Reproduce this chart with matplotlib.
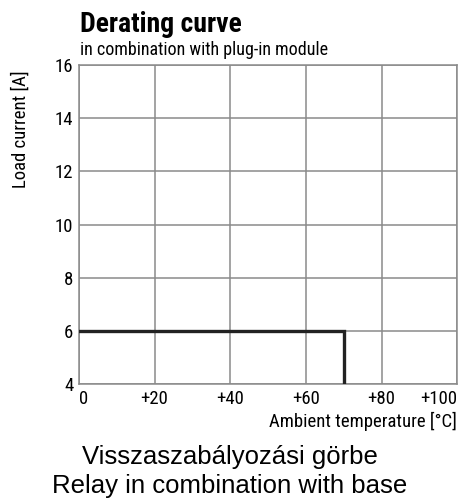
import matplotlib.pyplot as plt
from matplotlib import font_manager

# derating curve: load current vs ambient temperature
temp = [0, 70, 70]
current = [6, 6, 4]

x_ticks = [0, 20, 40, 60, 80, 100]
x_labels = ['0', '+20', '+40', '+60', '+80', '+100']
y_ticks = [4, 6, 8, 10, 12, 14, 16]

names = {f.name for f in font_manager.fontManager.ttflist}
narrow = [n for n in ['Liberation Sans Narrow', 'DejaVu Sans Condensed', 'Roboto Condensed'] if n in names]
narrow = narrow + ['DejaVu Sans']
plt.rcParams['font.family'] = narrow

fig = plt.figure(figsize=(4.59, 4.99), dpi=100)
ax = fig.add_axes([0.172, 0.2305, 0.824, 0.639])

ax.plot(temp, current, color='#222222', lw=2.4, solid_joinstyle='miter', zorder=3)

ax.set_xlim(0, 100)
ax.set_ylim(4, 16)
ax.set_xticks(x_ticks)
ax.set_xticklabels(x_labels, fontsize=13.5)
ax.set_yticks(y_ticks)
ax.set_yticklabels([str(v) for v in y_ticks], fontsize=13.5)
ax.tick_params(length=0, pad=4)
ax.grid(True, color='#8a8a8a', lw=1.1)
for s in ax.spines.values():
    s.set_color('#8a8a8a')
    s.set_linewidth(1.1)
lbls = ax.get_xticklabels()
lbls[0].set_ha('left')
lbls[-1].set_ha('right')

ax.set_xlabel('Ambient temperature [°C]', fontsize=13.5, loc='right', labelpad=3)
ax.set_ylabel('Load current [A]', fontsize=13.5)
ax.yaxis.set_label_coords(-0.13, 0.80)

fig.text(0.174, 0.936, 'Derating curve', fontsize=20, fontweight='bold', va='baseline')
fig.text(0.174, 0.889, 'in combination with plug-in module', fontsize=13, va='baseline')

cap = ['Liberation Sans', 'DejaVu Sans']
fig.text(0.5, 0.070, 'Visszaszabályozási görbe', fontsize=18.5, ha='center', va='baseline', family=cap)
fig.text(0.5, 0.012, 'Relay in combination with base', fontsize=18.5, ha='center', va='baseline', family=cap)

fig.savefig('out.png', dpi=100)
